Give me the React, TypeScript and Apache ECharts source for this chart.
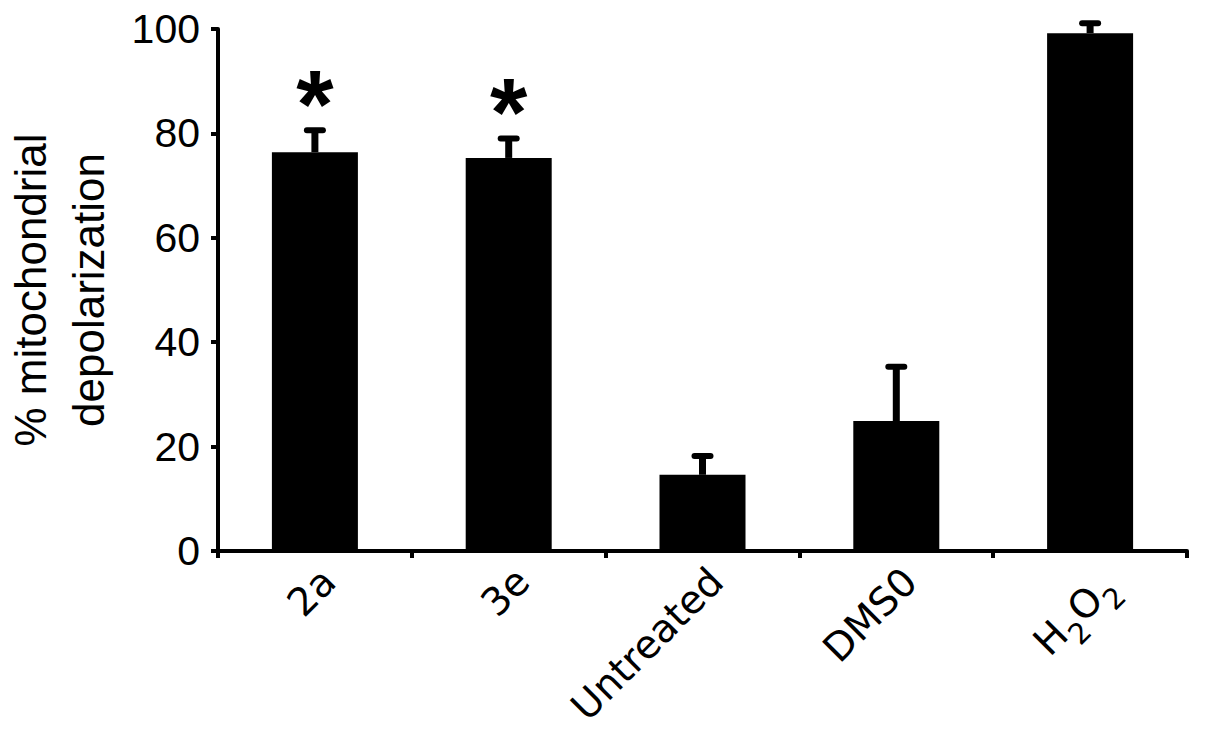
import React, { useEffect, useRef } from "react";
import * as echarts from "echarts";

const categories = ["2a", "3e", "Untreated", "DMS0", "H2O2"];
const means = [76.4, 75.3, 14.6, 24.9, 99.2];
const upperErrors = [80.6, 79.0, 18.2, 35.3, 101.1];
const significance = ["*", "*", "", "", ""];
const yTicks = { min: 0, max: 100, interval: 20 };
const yTitle = "% mitochondrial\ndepolarization";

export default function App() {
  const ref = useRef<HTMLDivElement>(null);
  useEffect(() => {
    if (!ref.current) return;
    const chart = echarts.init(ref.current, null, { renderer: "svg" });
    const errData = categories.map((_, i) => [i, means[i], upperErrors[i]]);
    chart.setOption({
      animation: false,
      backgroundColor: "#ffffff",
      grid: { left: 218, right: 18, top: 29, bottom: 180, containLabel: false, outerBoundsMode: "none" },
      xAxis: {
        type: "category",
        data: categories,
        axisLine: { lineStyle: { color: "#000", width: 4 } },
        axisTick: { show: true, length: 7, lineStyle: { color: "#000", width: 4 } },
        axisLabel: {
          rotate: 45,
          margin: 10,
          verticalAlign: "top",
          color: "#000",
          fontFamily: "DejaVu Sans",
          fontSize: 39,
          formatter: (v: string) => (v === "H2O2" ? "{b|H}{s|2}{b|O}{s|2}" : v),
          rich: {
            b: { fontFamily: "DejaVu Sans", fontSize: 39, color: "#000", lineHeight: 46, verticalAlign: "bottom" },
            s: { fontFamily: "DejaVu Sans", fontSize: 29, color: "#000", lineHeight: 29, verticalAlign: "bottom", padding: [0, 0, -12, 0] },
          },
        },
        splitLine: { show: false },
      },
      yAxis: {
        type: "value",
        min: yTicks.min,
        max: yTicks.max,
        interval: yTicks.interval,
        name: yTitle,
        nameLocation: "middle",
        nameRotate: 90,
        nameGap: 101,
        nameTextStyle: {
          color: "#000",
          fontFamily: "Liberation Sans",
          fontSize: 44,
          lineHeight: 58,
        },
        axisLine: { show: true, lineStyle: { color: "#000", width: 4 } },
        axisTick: { show: true, length: 7, lineStyle: { color: "#000", width: 4 } },
        axisLabel: { color: "#000", fontFamily: "Liberation Sans", fontSize: 41, margin: 18 },
        splitLine: { show: false },
      },
      series: [
        {
          type: "bar",
          data: means,
          barWidth: 86,
          itemStyle: { color: "#000" },
          z: 2,
        },
        {
          type: "custom",
          data: errData,
          z: 3,
          renderItem: (params: any, api: any) => {
            const i = api.value(0);
            const base = api.coord([i, api.value(1)]);
            const top = api.coord([i, api.value(2)]);
            const children: any[] = [
              {
                type: "line",
                shape: { x1: base[0], y1: base[1], x2: top[0], y2: top[1] },
                style: { stroke: "#000", lineWidth: 7 },
              },
              {
                type: "line",
                shape: { x1: top[0] - 8, y1: top[1], x2: top[0] + 8, y2: top[1] },
                style: { stroke: "#000", lineWidth: 6, lineCap: "round" },
              },
            ];
            const mark = significance[params.dataIndex];
            if (mark) {
              children.push({
                type: "text",
                x: top[0],
                y: top[1] - 27,
                style: {
                  text: mark,
                  fontFamily: "Liberation Sans",
                  fontWeight: "bold",
                  fontSize: 96,
                  fill: "#000",
                  textAlign: "center",
                  textVerticalAlign: "middle",
                },
              });
            }
            return { type: "group", children };
          },
        },
      ],
    });
    return () => chart.dispose();
  }, []);
  return <div ref={ref} style={{ width: 1205, height: 731, margin: -8 }} />;
}
